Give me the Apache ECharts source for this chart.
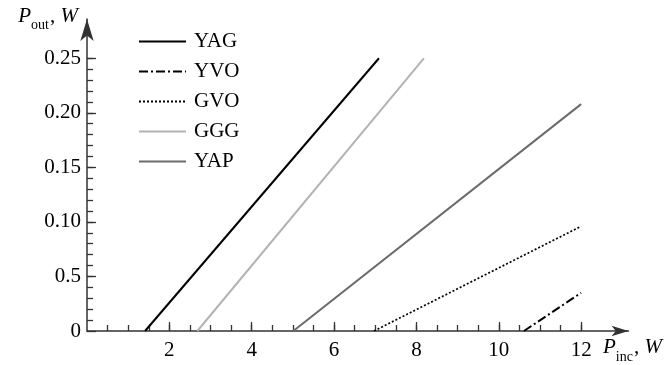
<!DOCTYPE html>
<html>
<head>
<meta charset="utf-8">
<script src="https://cdn.jsdelivr.net/npm/echarts@6/dist/echarts.min.js"></script>
<style>
  html, body { margin: 0; padding: 0; background: #fff; }
  #main { width: 665px; height: 365px; }
</style>
</head>
<body>
<div id="main"></div>
<script>
// line end points: [Pinc, Pout]
var yagX = [1.41, 7.09];   var yagY = [0, 0.25];
var yvoX = [10.61, 12];    var yvoY = [0, 0.035];
var gvoX = [6.97, 12];     var gvoY = [0, 0.096];
var gggX = [2.68, 8.18];   var gggY = [0, 0.25];
var yapX = [5.01, 12];     var yapY = [0, 0.208];

var xMajorTicks = [2, 4, 6, 8, 10, 12];
var xTickLabels = ['2', '4', '6', '8', '10', '12'];
var yMajorTicks = [0, 0.05, 0.10, 0.15, 0.20, 0.25];
var yTickLabels = ['0', '0.5', '0.10', '0.15', '0.20', '0.25']; // as printed

var xMinorTicks = [];
for (var i = 1; i <= 24; i++) xMinorTicks.push(i * 0.5);
var yMinorTicks = [];
for (var j = 1; j <= 25; j++) yMinorTicks.push(j * 0.01);

function pairs(xs, ys) {
  var out = [];
  for (var k = 0; k < xs.length; k++) out.push([xs[k], ys[k]]);
  return out;
}

var FONT = 'Liberation Serif';
var FS = 21;
var AX = '#333';
var TXT = '#000';
var chart = echarts.init(document.getElementById('main'));

function mkSeries(name, xs, ys, color, type, width) {
  return {
    name: name,
    type: 'line',
    xAxisIndex: 0,
    yAxisIndex: 0,
    symbol: 'none',
    showSymbol: false,
    lineStyle: { color: color, type: type, width: width },
    itemStyle: { color: color },
    data: pairs(xs, ys)
  };
}

var nameRich = {
  i: { fontFamily: FONT, fontStyle: 'italic', fontSize: FS, color: TXT, verticalAlign: 'bottom', padding: [0, 0, 6, 0] },
  s: { fontFamily: FONT, fontSize: 14, color: TXT, verticalAlign: 'bottom', padding: [0, 1, 0, 0] },
  n: { fontFamily: FONT, fontSize: FS, color: TXT, verticalAlign: 'bottom', padding: [0, 0, 6, 0] }
};

var option = {
  animation: false,
  backgroundColor: '#fff',
  grid: { left: 87, right: 36.5, top: 19, bottom: 34, containLabel: false },
  legend: {
    orient: 'vertical',
    left: 133,
    top: 26,
    itemWidth: 47,
    itemHeight: 14,
    itemGap: 9,
    itemStyle: { opacity: 0 },
    data: ['YAG', 'YVO', 'GVO', 'GGG', 'YAP'],
    textStyle: { fontFamily: FONT, fontSize: FS, color: TXT, lineHeight: 20, padding: [0, 0, 0, 3] }
  },
  xAxis: [
    {
      type: 'value',
      min: 0,
      max: 13.15,
      interval: 2,
      name: '{i|P}{s|inc}{n|, }{i|W}',
      nameLocation: 'end',
      nameGap: -25.5,
      nameTextStyle: { align: 'left', verticalAlign: 'top', padding: [6, 0, 0, 0], rich: nameRich },
      axisLine: { show: true, lineStyle: { color: AX, width: 1.5 }, symbol: ['none', 'arrow'], symbolSize: [8, 17] },
      axisTick: { show: true, inside: true, length: 9, customValues: xMajorTicks, lineStyle: { color: AX, width: 1.3 } },
      axisLabel: {
        customValues: xMajorTicks,
        margin: 9,
        fontFamily: FONT, fontSize: FS, color: TXT,
        formatter: function (v) { return xTickLabels[xMajorTicks.indexOf(Math.round(v))]; }
      },
      splitLine: { show: false }
    },
    {
      type: 'value',
      min: 0,
      max: 13.15,
      position: 'bottom',
      axisLine: { show: false },
      axisTick: { show: true, inside: true, length: 6, customValues: xMinorTicks, lineStyle: { color: AX, width: 1.3 } },
      axisLabel: { show: false },
      splitLine: { show: false }
    }
  ],
  yAxis: [
    {
      type: 'value',
      min: 0,
      max: 0.286,
      name: '{i|P}{s|out}{n|, }{i|W}',
      nameLocation: 'end',
      nameGap: 0,
      nameTextStyle: { align: 'right', verticalAlign: 'middle', padding: [0, 9, 0, 0], rich: nameRich },
      axisLine: { show: true, lineStyle: { color: AX, width: 1.5 }, symbol: ['none', 'arrow'], symbolSize: [10, 22] },
      axisTick: { show: true, inside: true, length: 9, customValues: yMajorTicks, lineStyle: { color: AX, width: 1.3 } },
      axisLabel: {
        customValues: yMajorTicks,
        margin: 6,
        fontFamily: FONT, fontSize: FS, color: TXT,
        formatter: function (v) { return yTickLabels[Math.round(v / 0.05)]; }
      },
      splitLine: { show: false }
    },
    {
      type: 'value',
      min: 0,
      max: 0.286,
      position: 'left',
      axisLine: { show: false },
      axisTick: { show: true, inside: true, length: 6, customValues: yMinorTicks, lineStyle: { color: AX, width: 1.3 } },
      axisLabel: { show: false },
      splitLine: { show: false }
    }
  ],
  series: [
    mkSeries('YAG', yagX, yagY, '#000', 'solid', 2),
    mkSeries('YVO', yvoX, yvoY, '#000', [9, 3, 2, 3], 2),
    mkSeries('GVO', gvoX, gvoY, '#000', [2, 2], 1.7),
    mkSeries('GGG', gggX, gggY, '#b3b3b3', 'solid', 2),
    mkSeries('YAP', yapX, yapY, '#6b6b6b', 'solid', 2)
  ]
};

chart.setOption(option);
</script>
</body>
</html>
